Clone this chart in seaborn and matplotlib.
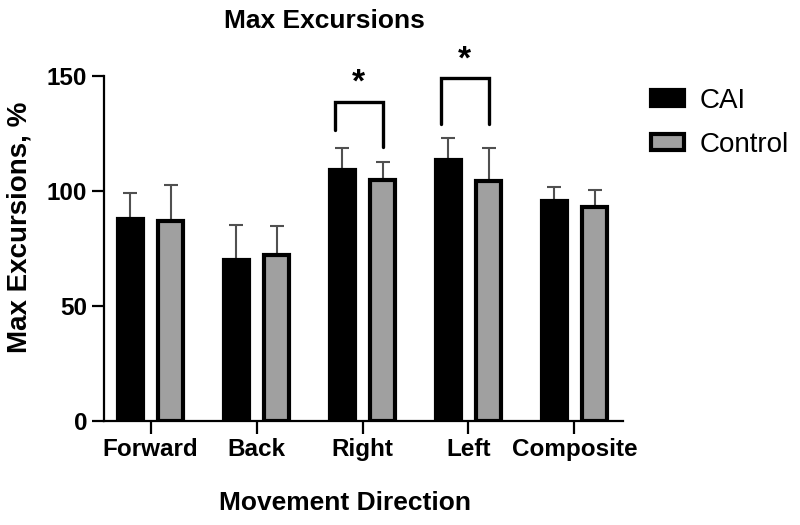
import numpy as np
import pandas as pd
import matplotlib
matplotlib.use('Agg')
import matplotlib.pyplot as plt
from matplotlib.patches import Patch
import seaborn as sns

directions = ['Forward', 'Back', 'Right', 'Left', 'Composite']
groups = ['CAI', 'Control']
cai_mean = [88.0, 70.0, 109.0, 113.5, 95.5]
cai_sd = [11.1, 15.4, 9.7, 9.7, 6.2]
ctrl_mean = [87.0, 72.0, 105.0, 104.3, 93.0]
ctrl_sd = [15.8, 12.8, 7.8, 14.4, 7.4]

# significance brackets: (category, top, left leg bottom, right leg bottom, star y)
sig_cats = ['Right', 'Left']
sig_top = [138.7, 149.4]
sig_left_bottom = [126.7, 129.0]
sig_right_bottom = [119.1, 129.0]
sig_star = [147.0, 157.0]

df = pd.DataFrame({
    'direction': directions * 2,
    'group': ['CAI'] * 5 + ['Control'] * 5,
    'mean': cai_mean + ctrl_mean,
    'sd': cai_sd + ctrl_sd,
})

sns.set_theme(style='ticks')
plt.rcParams['font.family'] = ['Liberation Sans', 'DejaVu Sans']
plt.rcParams.update({'text.color': 'black', 'axes.labelcolor': 'black',
                     'xtick.color': 'black', 'ytick.color': 'black',
                     'axes.edgecolor': 'black'})

fig = plt.figure(figsize=(8, 5.25), dpi=100)
ax = fig.add_axes([0.13, 0.198, 0.649, 0.657])

palette = {'CAI': 'black', 'Control': '#a0a0a0'}
sns.barplot(data=df, x='direction', y='mean', hue='group', order=directions,
            hue_order=groups, palette=palette, errorbar=None, width=0.76,
            gap=0.38, edgecolor='black', linewidth=3, saturation=1,
            legend=False, ax=ax, zorder=3)

# one-sided (upward) SD error bars
for cont, sds in zip(ax.containers, [cai_sd, ctrl_sd]):
    xs = [b.get_x() + b.get_width() / 2 for b in cont]
    hs = [b.get_height() for b in cont]
    ax.errorbar(xs, hs, yerr=[np.zeros(len(sds)), sds], fmt='none',
                ecolor='#505050', elinewidth=1.5, capsize=5, capthick=1.5,
                zorder=2)

# brackets
for cat, top, lb, rb, sy in zip(sig_cats, sig_top, sig_left_bottom, sig_right_bottom, sig_star):
    i = directions.index(cat)
    x0, x1 = i - 0.26, i + 0.19
    ax.plot([x0, x0, x1, x1], [lb, top, top, rb], color='black', lw=2.4,
            clip_on=False, solid_joinstyle='miter', zorder=4)
    ax.text((x0 + x1) / 2, sy, '*', ha='center', va='center',
            fontsize=24, fontweight='bold', clip_on=False)

ax.set_xlim(-0.44, 4.46)
ax.set_ylim(0, 150)
ax.set_yticks([0, 50, 100, 150])
sns.despine(ax=ax)
for s in ['left', 'bottom']:
    ax.spines[s].set_linewidth(1.6)
ax.tick_params(axis='both', width=1.6, length=9, labelsize=17.5, pad=3)
for lab in ax.get_xticklabels() + ax.get_yticklabels():
    lab.set_fontweight('bold')
ax.set_xlabel('')
ax.set_ylabel('')

fig.text(0.406, 1 - 21 / 525, 'Max Excursions', ha='center', va='center',
         fontsize=19, fontweight='bold')
fig.text(345 / 800, 1 - 503 / 525, 'Movement Direction', ha='center',
         va='center', fontsize=19, fontweight='bold')
fig.text(20 / 800, 1 - 227 / 525, 'Max Excursions, %', ha='center',
         va='center', rotation=90, fontsize=20, fontweight='bold')

handles = [Patch(facecolor=palette[g], edgecolor='black', linewidth=3) for g in groups]
fig.legend(handles, groups, loc='upper left', bbox_to_anchor=(651 / 800, 1 - 88 / 525),
           frameon=False, fontsize=20, handlelength=1.2, handleheight=0.5,
           labelspacing=0.65, handletextpad=0.55, borderpad=0, borderaxespad=0)

fig.savefig('out.png', dpi=100)
